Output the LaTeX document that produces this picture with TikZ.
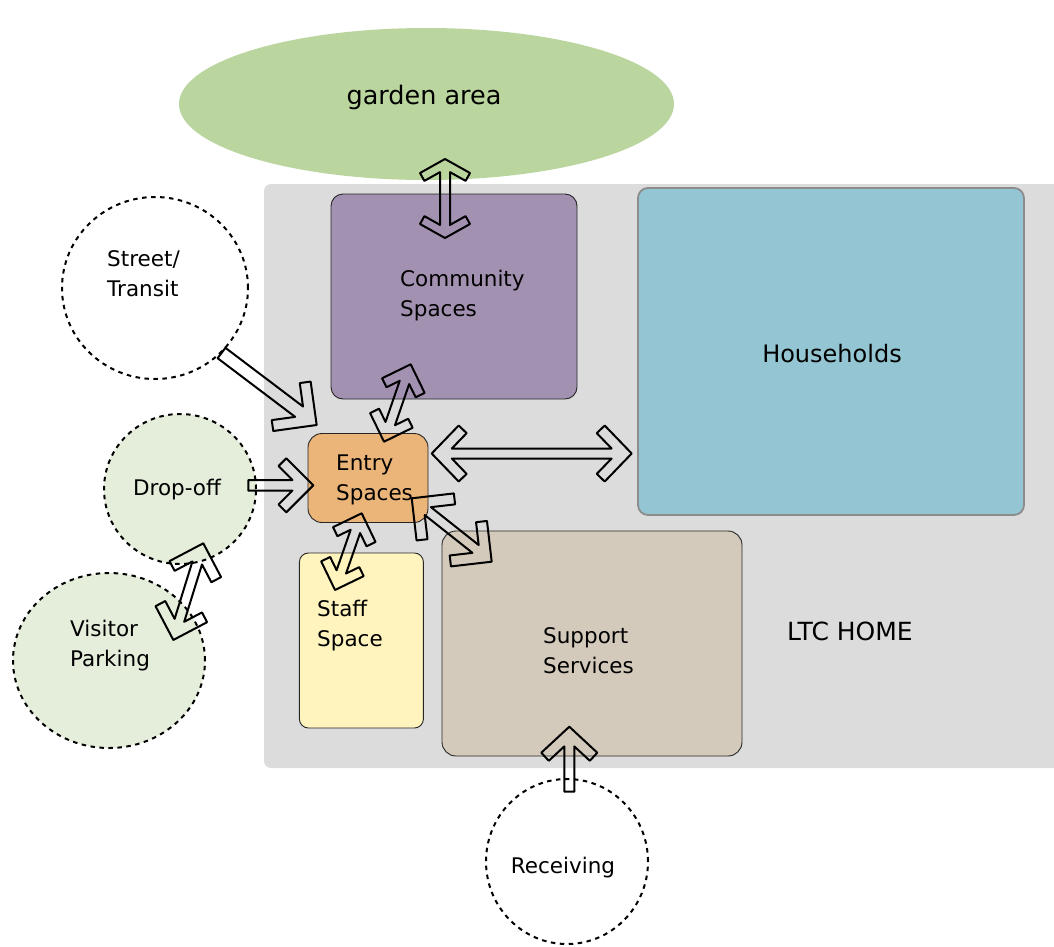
\documentclass[tikz,border=0pt]{standalone}
\usepackage{fontspec}
\setmainfont{DejaVu Sans}
\usetikzlibrary{shapes.geometric}
\definecolor{gardenc}{HTML}{BBD59F}
\definecolor{bgc}{HTML}{DCDCDC}
\definecolor{commc}{HTML}{A391B2}
\definecolor{hhc}{HTML}{93C6D2}
\definecolor{entryc}{HTML}{EBB478}
\definecolor{staffc}{HTML}{FFF3BE}
\definecolor{suppc}{HTML}{D4CABC}
\definecolor{lgreen}{HTML}{E5EEDB}
\tikzset{
 room/.style={draw=black!85, line width=0.9pt, inner sep=0pt, outer sep=0pt},
 place/.style={ellipse, draw=black, line width=2pt, dash pattern=on 4.5pt off 4.5pt, inner sep=0pt},
 lbl/.style={font=\fontsize{21.5}{30}\selectfont, align=left, inner sep=0pt},
 arrowline/.style={draw=black, line width=2pt, line join=round},
}
\def\arrs{5}\def\arrt{11}
\newcommand\arrowhd[2]{%
 \pgfmathsetmacro\hL{veclen(#1,#2)}%
 \pgfmathsetmacro\hCu{#1+\arrt*#2/\hL}%
 \pgfmathsetmacro\hCv{#2-\arrt*#1/\hL}%
 \pgfmathsetmacro\hK{(#2-\arrs-\arrt*#1/\hL)*\hL/#2}%
 \pgfmathsetmacro\hIu{\hCu-\hK*#1/\hL}%
}
\newcommand\twoheads[6]{%
 \pgfmathanglebetweenpoints{\pgfpointanchor{#1}{center}}{\pgfpointanchor{#2}{center}}%
 \let\arrang\pgfmathresult
 \pgfpointdiff{\pgfpointanchor{#1}{center}}{\pgfpointanchor{#2}{center}}%
 \pgfgetlastxy{\arrdx}{\arrdy}%
 \pgfmathsetmacro\arrL{veclen(\arrdx,\arrdy)}%
 \ifdim #3pt>0pt
   \arrowhd{#3}{#4}%
   \edef\pA{(0,0) -- (#3,#4) -- (\hCu,\hCv) -- (\hIu,\arrs)}%
   \edef\pZ{(\hIu,-\arrs) -- (\hCu,-\hCv) -- (#3,-#4) -- cycle}%
 \else
   \edef\pA{(0,0) -- (0,\arrs)}%
   \edef\pZ{(0,-\arrs) -- cycle}%
 \fi
 \ifdim #5pt>0pt
   \arrowhd{#5}{#6}%
   \pgfmathsetmacro\qa{\arrL-\hIu}\pgfmathsetmacro\qb{\arrL-\hCu}\pgfmathsetmacro\qc{\arrL-#5}%
   \edef\pM{(\qa,\arrs) -- (\qb,\hCv) -- (\qc,#6) -- (\arrL,0) -- (\qc,-#6) -- (\qb,-\hCv) -- (\qa,-\arrs)}%
 \else
   \edef\pM{(\arrL,\arrs) -- (\arrL,-\arrs)}%
 \fi
 \edef\pFull{\noexpand\draw[arrowline,shift={(#1)},rotate=\arrang] \pA -- \pM -- \pZ;}%
 \pFull
}
\begin{document}
\begin{tikzpicture}[x=1pt,y=-1pt]
\useasboundingbox (0,0) rectangle (1054,946);
\clip (0,0) rectangle (1054,946);
% background of LTC home
\fill[bgc, rounded corners=7pt] (264,184) rectangle (1075,768);
\node[ellipse, fill=gardenc, minimum width=495pt, minimum height=152pt, inner sep=0pt] (garden) at (426.5,104) {};
\node[font=\fontsize{25.5}{30}\selectfont, inner sep=0pt] (gardenT) at (424,97) {garden area};
% rooms
\node[room, fill=commc, rounded corners=12pt, minimum width=246pt, minimum height=205pt] (comm) at (454,296.5) {};
\node[room, draw=black!45, line width=1.8pt, fill=hhc, rounded corners=10pt, minimum width=386pt, minimum height=327pt] (hh) at (831,351.5) {};
\node[room, fill=entryc, rounded corners=14pt, minimum width=120pt, minimum height=89pt] (entry) at (368,478) {};
\node[room, fill=staffc, rounded corners=9pt, minimum width=124pt, minimum height=175pt] (staff) at (361.4,640.5) {};
\node[room, fill=suppc, rounded corners=14pt, minimum width=300pt, minimum height=225pt] (supp) at (592,643.5) {};
% outside places
\node[place, fill=white, minimum width=186pt, minimum height=182pt] (street) at (155,288) {};
\node[place, fill=lgreen, minimum width=152pt, minimum height=150pt] (drop) at (180,489) {};
\node[place, fill=lgreen, minimum width=192pt, minimum height=175pt] (visit) at (109,660.5) {};
\node[place, fill=white, minimum width=162pt, minimum height=165pt] (recv) at (567,861.5) {};
% labels
\node[lbl, anchor=west] (commT) at (400,296) {Community\\Spaces};
\node[lbl, font=\fontsize{24}{30}\selectfont] (hhT) at (832,354) {Households};
\node[lbl, anchor=west] (entryT) at (336,480) {Entry\\Spaces};
\node[lbl, anchor=west] (staffT) at (317,626) {Staff\\Space};
\node[lbl, anchor=west] (suppT) at (543,650.5) {Support\\Services};
\node[lbl, font=\fontsize{25}{30}\selectfont] (ltcT) at (850,631) {LTC HOME};
\node[lbl, anchor=west] (streetT) at (107,274) {Street/\\Transit};
\node[lbl] (dropT) at (177,490) {Drop-off};
\node[lbl, anchor=west] (visitT) at (70,645.5) {Visitor\\Parking};
\node[lbl] (recvT) at (563,868) {Receiving};
% arrow end points
\coordinate (gT) at (445,159); \coordinate (gB) at (445,238);
\coordinate (sT) at (221.5,353); \coordinate (sH) at (316.7,425);
\coordinate (dT) at (248.3,485.3); \coordinate (dH) at (313.3,485.3);
\coordinate (eL) at (431.7,453.5); \coordinate (eR) at (631.7,453.5);
\coordinate (ceT) at (410.7,364.3); \coordinate (ceB) at (384,441.7);
\coordinate (esT) at (361.7,513.3); \coordinate (esB) at (335,590);
\coordinate (euA) at (411.7,498.3); \coordinate (euB) at (491.7,561.7);
\coordinate (dvT) at (203.3,543.3); \coordinate (dvB) at (173.3,640);
\coordinate (rT) at (569.3,791.7); \coordinate (rH) at (569.3,726.7);
% arrows
\def\arrs{5}\def\arrt{9}\twoheads{gT}{gB}{14}{25}{14}{25}
\def\arrs{6.5}\def\arrt{11}\twoheads{sT}{sH}{0}{0}{31}{31}
\def\arrs{5.3}\def\arrt{11}\twoheads{dT}{dH}{0}{0}{27}{27}
\def\arrs{5}\def\arrt{11}\twoheads{eL}{eR}{27}{28}{27}{28}
\def\arrs{5}\def\arrt{10}\twoheads{ceT}{ceB}{22.5}{22.5}{22.5}{22.5}
\def\arrs{5}\def\arrt{10}\twoheads{esT}{esB}{22.5}{22.5}{22.5}{22.5}
\def\arrs{5}\def\arrt{11}\twoheads{euA}{euB}{30}{30}{29}{29}
\def\arrs{5}\def\arrt{11}\twoheads{dvT}{dvB}{27}{27}{27}{27}
\def\arrs{5}\def\arrt{11}\twoheads{rT}{rH}{0}{0}{26}{28}
\end{tikzpicture}
\end{document}
